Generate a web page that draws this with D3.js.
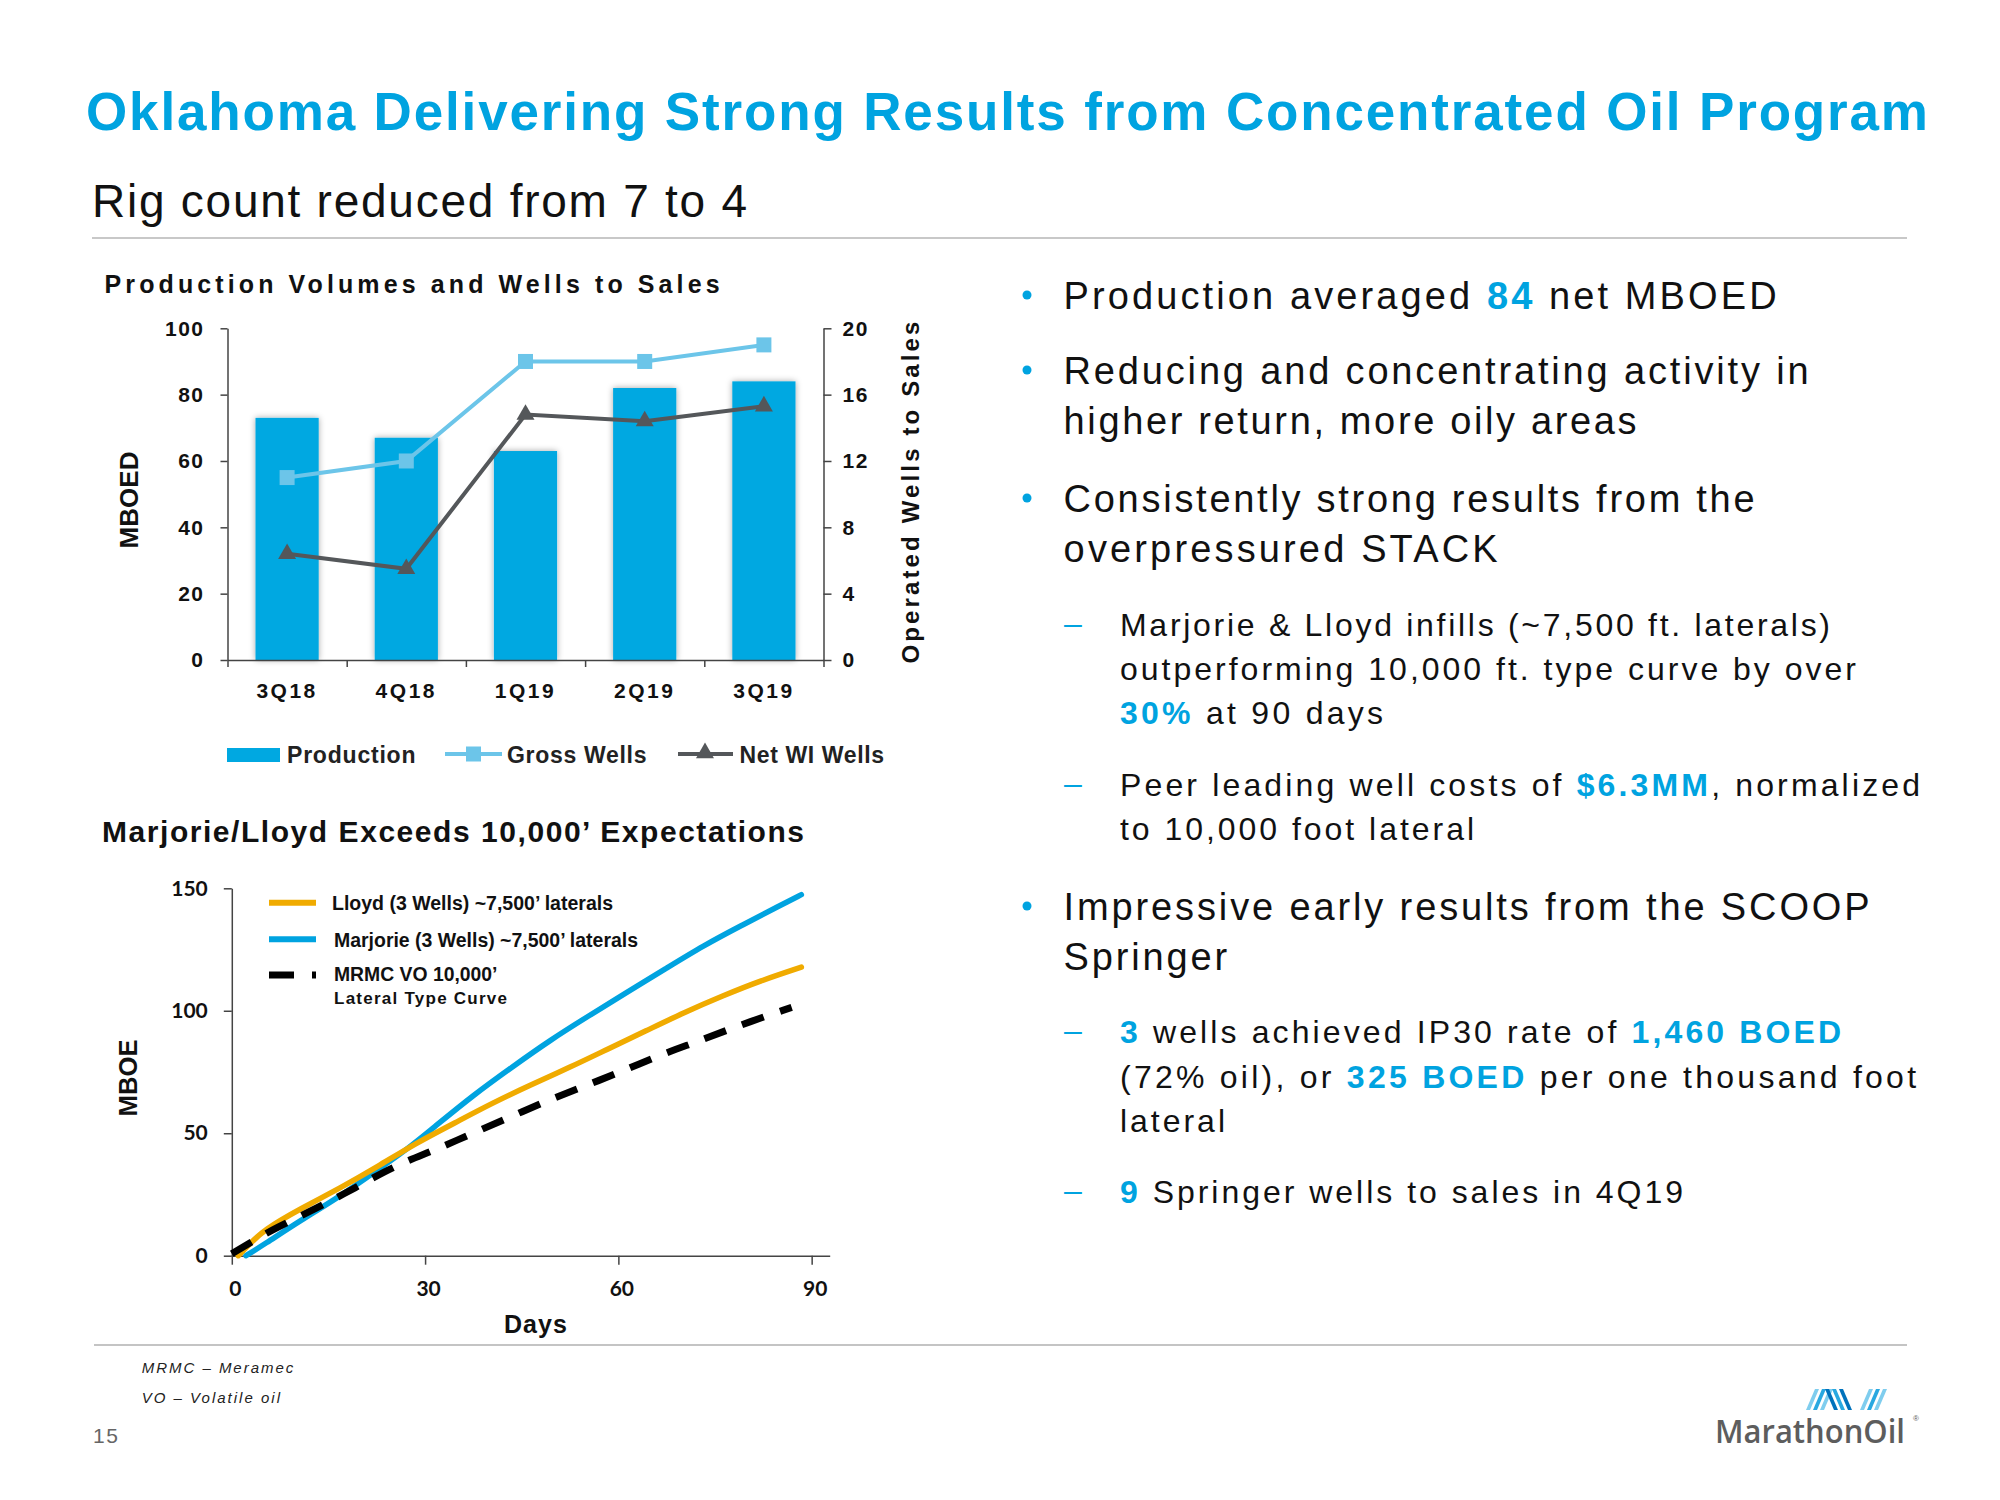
<!DOCTYPE html>
<html><head><meta charset="utf-8">
<script src="https://cdn.jsdelivr.net/npm/d3@7"></script>
<style>
html,body{margin:0;padding:0;background:#fff;}
svg{display:block;}
text{font-family:"Liberation Sans",Arial,sans-serif;}
</style></head><body>
<svg id="slide" width="2000" height="1500"></svg>
<script>
// ---------- Data: Production Volumes and Wells to Sales ----------
const quarters   = ["3Q18","4Q18","1Q19","2Q19","3Q19"];
const production = [73, 67, 63, 82, 84];          // MBOED (left axis)
const grossWells = [11, 12, 18, 18, 19];          // wells (right axis)
const netWIWells = [6.4, 5.5, 14.8, 14.4, 15.3];  // wells (right axis)
const prodTicks  = [0, 20, 40, 60, 80, 100];
const wellTicks  = [0, 4, 8, 12, 16, 20];

// ---------- Data: Marjorie/Lloyd cumulative production [day, MBOE] ----------
const marjorie = [[2.2,0],[4.9,4.4],[10.8,14.6],[16.8,24.2],[22.7,35.1],[27.5,44],[31.6,52.9],[37.6,65.8],[43.5,77],[49.4,88],[55.4,97.9],[61.3,107.5],[67.3,117.1],[73.2,126.6],[79.1,134.8],[85.1,143],[88.4,147.4]];
const lloyd    = [[1.0,0],[2.5,4],[4.9,10.5],[10.8,19.4],[16.8,27.6],[22.7,36.5],[28.6,46],[34.6,54.2],[40.5,62.4],[46.5,69.9],[52.4,76.8],[58.3,84.3],[64.3,91.8],[70.2,99.3],[76.2,106.1],[82.1,112.3],[88.4,117.8]];
const typeCurve= [[0,0.8],[3.1,5.7],[6.7,11.2],[13.2,19.4],[19.1,27.6],[25.1,36.5],[31,42.6],[37,49.5],[42.9,56.3],[48.8,63.1],[54.8,69.3],[60.7,75.4],[66.7,82.2],[72.6,87.7],[78.6,93.9],[86.9,101.4]];
const dayTicks  = [0, 30, 60, 90];
const mboeTicks = [0, 50, 100, 150];

const BLUE = "#00a3e0", BAR = "#00a8e1", LIGHT = "#6cc5e9", DARK = "#54575a", GOLD = "#f0ab00";

const svg = d3.select("#slide");
const defs = svg.append("defs");
const f = defs.append("filter").attr("id","shadow").attr("x","-30%").attr("y","-10%").attr("width","160%").attr("height","120%");
f.append("feDropShadow").attr("dx",0).attr("dy",0).attr("stdDeviation",3).attr("flood-color","#000").attr("flood-opacity",0.35);

function fit(t, target){
  const node = t.node();
  const w = node.getComputedTextLength();
  const n = node.textContent.length;
  if (w > target) t.attr("textLength", target).attr("lengthAdjust","spacingAndGlyphs");
  else t.style("letter-spacing", ((target - w) / Math.max(1, n - 1)) + "px");
}
function txt(g, x, y, parts, o = {}){
  const t = g.append("text").attr("x", x).attr("y", y)
    .attr("font-size", o.size || 20).attr("font-weight", o.weight || "normal")
    .attr("fill", o.fill || "#000").attr("text-anchor", o.anchor || "start");
  if (o.family) t.style("font-family", o.family);
  if (o.italic) t.attr("font-style", "italic");
  if (o.rotate) t.attr("transform", `rotate(${o.rotate},${x},${y})`);
  if (typeof parts === "string") parts = [[parts]];
  parts.forEach(p => { const s = t.append("tspan").text(p[0]); if (p[1]) s.attr("fill", p[1]).attr("font-weight", "bold"); });
  if (o.len) fit(t, o.len);
  return t;
}

// ---------- Header ----------
txt(svg, 86, 130, "Oklahoma Delivering Strong Results from Concentrated Oil Program", {size:53, weight:"bold", fill:BLUE, len:1842});
txt(svg, 92, 216.7, "Rig count reduced from 7 to 4", {size:46, fill:"#111", len:655});
svg.append("line").attr("x1",92).attr("x2",1907).attr("y1",238).attr("y2",238).attr("stroke","#c8c8c8").attr("stroke-width",2);

// ---------- Chart 1 ----------
const c1 = {left:227.5, right:823.5, top:328.3, bottom:660};
const g1 = svg.append("g");
txt(g1, 104.6, 292.7, "Production Volumes and Wells to Sales", {size:25, weight:"bold", fill:"#111", len:615});

const x1  = d3.scaleBand().domain(quarters).range([c1.left, c1.right]).paddingInner(0.47).paddingOuter(0.235);
const y1  = d3.scaleLinear().domain([0,100]).range([c1.bottom, c1.top]);
const y1r = d3.scaleLinear().domain([0,20]).range([c1.bottom, c1.top]);
const cx1 = q => x1(q) + x1.bandwidth()/2;

g1.append("g").selectAll("rect").data(production).join("rect")
  .attr("x", (d,i) => x1(quarters[i])).attr("width", x1.bandwidth())
  .attr("y", d => y1(d)).attr("height", d => y1(0) - y1(d))
  .attr("fill", BAR).attr("filter","url(#shadow)");

function styleAxis(g, size, fam){
  g.selectAll("path.domain").attr("stroke","#444").attr("stroke-width",1.5);
  g.selectAll(".tick line").attr("stroke","#444").attr("stroke-width",1.5);
  g.selectAll("text").attr("font-size",size).attr("font-weight","bold").attr("fill","#111")
    .style("font-family", fam || '"Liberation Sans",Arial,sans-serif');
}
const gl = g1.append("g").attr("transform",`translate(${c1.left},0)`)
  .call(d3.axisLeft(y1).tickValues(prodTicks).tickSize(7).tickPadding(16).tickSizeOuter(0));
styleAxis(gl, 21); gl.selectAll("text").style("letter-spacing","1.5px");
const gr = g1.append("g").attr("transform",`translate(${c1.right},0)`)
  .call(d3.axisRight(y1r).tickValues(wellTicks).tickSize(8).tickPadding(11).tickSizeOuter(0));
styleAxis(gr, 21); gr.selectAll("text").style("letter-spacing","1.5px");
const xb = d3.scaleLinear().domain([0, quarters.length]).range([c1.left, c1.right]);
const gb = g1.append("g").attr("transform",`translate(0,${c1.bottom})`)
  .call(d3.axisBottom(xb).tickValues(d3.range(0, quarters.length + 1)).tickFormat("").tickSize(7).tickSizeOuter(0));
styleAxis(gb, 21);
const gc = g1.append("g").attr("transform",`translate(0,${c1.bottom})`)
  .call(d3.axisBottom(x1).tickSize(0).tickPadding(23));
gc.select("path.domain").remove();
styleAxis(gc, 21); gc.selectAll("text").style("letter-spacing","2.5px");

const line1 = d3.line().x((d,i) => cx1(quarters[i])).y(d => y1r(d));
g1.append("path").attr("d", line1(grossWells)).attr("fill","none").attr("stroke",LIGHT).attr("stroke-width",4);
g1.append("g").selectAll("rect").data(grossWells).join("rect")
  .attr("x",(d,i)=>cx1(quarters[i])-7.5).attr("y",d=>y1r(d)-7.5).attr("width",15).attr("height",15).attr("fill",LIGHT);
g1.append("path").attr("d", line1(netWIWells)).attr("fill","none").attr("stroke",DARK).attr("stroke-width",4);
const tri = d3.symbol().type(d3.symbolTriangle).size(140);
g1.append("g").selectAll("path").data(netWIWells).join("path")
  .attr("d", tri).attr("transform",(d,i)=>`translate(${cx1(quarters[i])},${y1r(d)})`).attr("fill",DARK);

txt(g1, 138, 500, "MBOED", {size:26, weight:"bold", fill:"#111", anchor:"middle", rotate:-90, len:97});
txt(g1, 919, 491, "Operated Wells to Sales", {size:24, weight:"bold", fill:"#111", anchor:"middle", rotate:-90, len:342});

// legend
const lg = g1.append("g");
lg.append("rect").attr("x",227).attr("y",748).attr("width",53).attr("height",14).attr("fill",BAR);
txt(lg, 287, 762.5, "Production", {size:23, weight:"bold", fill:"#222", len:128.5});
lg.append("line").attr("x1",445).attr("x2",502).attr("y1",754).attr("y2",754).attr("stroke",LIGHT).attr("stroke-width",4);
lg.append("rect").attr("x",466).attr("y",746.5).attr("width",15).attr("height",15).attr("fill",LIGHT);
txt(lg, 507, 762.5, "Gross Wells", {size:23, weight:"bold", fill:"#222", len:139.5});
lg.append("line").attr("x1",678).attr("x2",733).attr("y1",754).attr("y2",754).attr("stroke",DARK).attr("stroke-width",4);
lg.append("path").attr("d",tri).attr("transform","translate(705,753)").attr("fill",DARK);
txt(lg, 739.5, 762.5, "Net WI Wells", {size:23, weight:"bold", fill:"#222", len:144.5});

// ---------- Chart 2 ----------
const c2 = {left:231.8, right:829.7, top:888.3, bottom:1255.7};
const g2 = svg.append("g");
txt(g2, 102, 841.7, "Marjorie/Lloyd Exceeds 10,000\u2019 Expectations", {size:30, weight:"bold", fill:"#111", len:702});
const x2 = d3.scaleLinear().domain([0, 92.8]).range([c2.left, c2.right]);
const y2 = d3.scaleLinear().domain([0, 150]).range([c2.bottom, c2.top]);
const LATO = 'Lato,"Liberation Sans",sans-serif';
const ga = g2.append("g").attr("transform",`translate(${c2.left},0)`)
  .call(d3.axisLeft(y2).tickValues(mboeTicks).tickSize(8).tickPadding(16).tickSizeOuter(0));
styleAxis(ga, 21, LATO);
const gx = g2.append("g").attr("transform",`translate(0,${c2.bottom})`)
  .call(d3.axisBottom(x2).tickValues(dayTicks).tickSize(9).tickPadding(16).tickSizeOuter(0));
styleAxis(gx, 21, LATO); gx.selectAll("text").attr("dx", 3);
txt(g2, 536, 1333, "Days", {size:25, weight:"bold", fill:"#111", anchor:"middle", len:63});
txt(g2, 137, 1078, "MBOE", {size:26, weight:"bold", fill:"#111", anchor:"middle", rotate:-90, len:77});

const line2 = d3.line().x(d => x2(d[0])).y(d => y2(d[1])).curve(d3.curveBasis);
g2.append("path").attr("d", line2(marjorie)).attr("fill","none").attr("stroke",BLUE).attr("stroke-width",5.5).attr("stroke-linecap","round");
g2.append("path").attr("d", line2(lloyd)).attr("fill","none").attr("stroke",GOLD).attr("stroke-width",5.5).attr("stroke-linecap","round");
g2.append("path").attr("d", line2(typeCurve)).attr("fill","none").attr("stroke","#000").attr("stroke-width",7).attr("stroke-dasharray","23,17");

const l2 = g2.append("g");
l2.append("line").attr("x1",269).attr("x2",316).attr("y1",902.7).attr("y2",902.7).attr("stroke",GOLD).attr("stroke-width",6);
txt(l2, 332, 910, "Lloyd (3 Wells) ~7,500\u2019 laterals", {size:20, weight:"bold", fill:"#111", len:281});
l2.append("line").attr("x1",269).attr("x2",316).attr("y1",939.3).attr("y2",939.3).attr("stroke",BLUE).attr("stroke-width",6);
txt(l2, 334, 946.7, "Marjorie (3 Wells) ~7,500\u2019 laterals", {size:20, weight:"bold", fill:"#111", len:304});
l2.append("line").attr("x1",269).attr("x2",316).attr("y1",975).attr("y2",975).attr("stroke","#000").attr("stroke-width",7).attr("stroke-dasharray","25,18");
txt(l2, 334, 980.7, "MRMC VO 10,000\u2019", {size:20, weight:"bold", fill:"#111", len:163.5});
txt(l2, 334, 1004, "Lateral Type Curve", {size:17, weight:"bold", fill:"#111", len:173});

// ---------- Right-hand text ----------
const rt = svg.append("g");
const bulletLines = [
  {y:309,   parts:[["Production averaged "],["84",BLUE],[" net MBOED"]], len:713, dot:true},
  {y:384,   parts:[["Reducing and concentrating activity in"]], len:745, dot:true},
  {y:434.4, parts:[["higher return, more oily areas"]], len:573},
  {y:512,   parts:[["Consistently strong results from the"]], len:691, dot:true},
  {y:561.5, parts:[["overpressured STACK"]], len:434},
  {y:920,   parts:[["Impressive early results from the SCOOP"]], len:806, dot:true},
  {y:970,   parts:[["Springer"]], len:163.5}
];
bulletLines.forEach(b => {
  if (b.dot) rt.append("circle").attr("cx",1027).attr("cy",b.y-14).attr("r",4.5).attr("fill",BLUE);
  txt(rt, 1063.6, b.y, b.parts, {size:38, fill:"#111", len:b.len});
});
const subLines = [
  {y:636,    parts:[["Marjorie & Lloyd infills (~7,500 ft. laterals)"]], len:710, dash:true},
  {y:680,    parts:[["outperforming 10,000 ft. type curve by over"]], len:736},
  {y:724,    parts:[["30%",BLUE],[" at 90 days"]], len:263},
  {y:796.2,  parts:[["Peer leading well costs of "],["$6.3MM",BLUE],[", normalized"]], len:800, dash:true},
  {y:840,    parts:[["to 10,000 foot lateral"]], len:354},
  {y:1043.3, parts:[["3",BLUE],[" wells achieved IP30 rate of "],["1,460 BOED",BLUE]], len:721, dash:true},
  {y:1087.7, parts:[["(72% oil), or "],["325 BOED",BLUE],[" per one thousand foot"]], len:796},
  {y:1131.7, parts:[["lateral"]], len:105},
  {y:1203.3, parts:[["9",BLUE],[" Springer wells to sales in 4Q19"]], len:563, dash:true}
];
subLines.forEach(s => {
  if (s.dash) txt(rt, 1064, s.y - 2, "\u2013", {size:32, fill:BLUE});
  txt(rt, 1120, s.y, s.parts, {size:32, fill:"#111", len:s.len});
});

// ---------- Footer ----------
svg.append("line").attr("x1",94).attr("x2",1907).attr("y1",1345).attr("y2",1345).attr("stroke","#b0b0b0").attr("stroke-width",1.5);
txt(svg, 141.7, 1373.3, "MRMC \u2013 Meramec", {size:15, italic:true, fill:"#222", len:151.6});
txt(svg, 141.7, 1403.3, "VO \u2013 Volatile oil", {size:15, italic:true, fill:"#222", len:138.3});
txt(svg, 93, 1443, "15", {size:21, fill:"#666", len:25});

// logo
const logo = svg.append("g");
const stripes = [
  {x:1806, c:"#7fcdee"},{x:1813, c:"#29a8e0"},{x:1820, c:"#7fcdee"},
  {x:1834, c:"#0072bc"},{x:1841, c:"#29a8e0"},{x:1848, c:"#0072bc"},
  {x:1860, c:"#7fcdee"},{x:1867, c:"#29a8e0"},{x:1874, c:"#7fcdee"}
];
stripes.forEach((s,i) => {
  const lean = (i>=3 && i<6) ? -1 : 1;
  logo.append("path")
    .attr("d", `M${s.x},1410 L${s.x+4},1410 L${s.x+4+lean*9},1389 L${s.x+lean*9},1389 Z`)
    .attr("fill", s.c);
});
txt(logo, 1715, 1442.7, "MarathonOil", {size:32, weight:600, fill:"#5d5d5d", family:'"Open Sans",sans-serif', len:190});
txt(logo, 1913, 1421, "\u00ae", {size:8, fill:"#5d5d5d"});
</script>
</body></html>
